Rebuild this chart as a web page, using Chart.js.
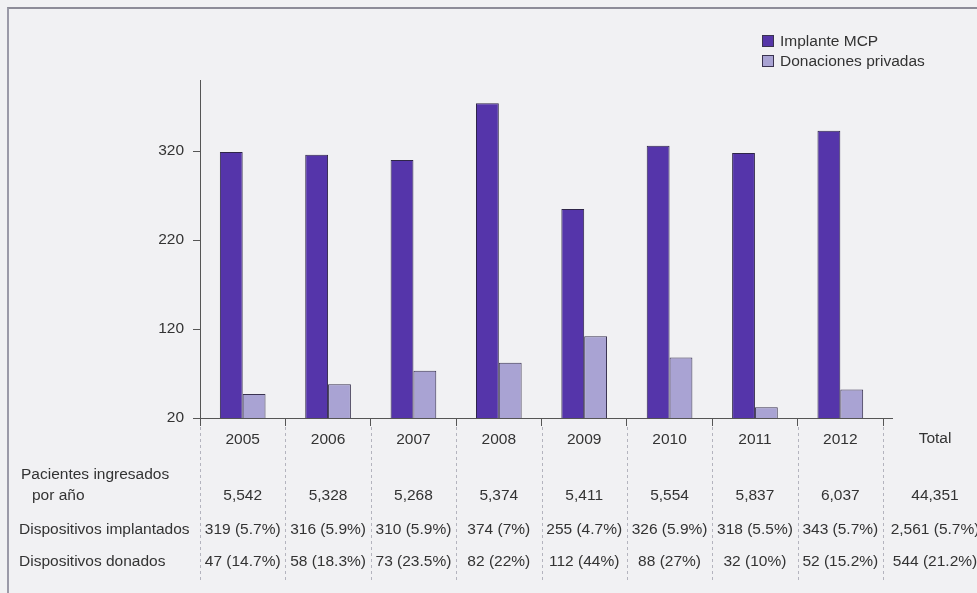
<!DOCTYPE html>
<html>
<head>
<meta charset="utf-8">
<script src="https://cdn.jsdelivr.net/npm/chart.js@4.4.1/dist/chart.umd.min.js"></script>
<style>
  html, body { margin: 0; padding: 0; background: #f1f1f3; }
  #wrap { position: relative; width: 977px; height: 593px; overflow: hidden; }
  #frame { position: absolute; left: 7px; top: 7px; right: 0; bottom: 0;
           border-top: 2px solid #8d8c98; border-left: 2px solid #9b9aa8; }
  #legend { position: absolute; left: 762px; top: 31px; font-family: "Liberation Sans", Arial, sans-serif;
            font-size: 15.5px; color: #333; line-height: 20px; }
  #legend .sw { display: inline-block; width: 12px; height: 12px; margin-right: 6px;
                vertical-align: -1px; border: 1px solid #3a3350; box-sizing: border-box; }
  canvas { position: absolute; left: 0; top: 0; }
</style>
</head>
<body>
<div id="wrap">
  <div id="frame"></div>
  <canvas id="c" width="977" height="593"></canvas>
  <div id="legend">
    <div><span class="sw" style="background:#5636a8"></span>Implante MCP</div>
    <div><span class="sw" style="background:#a9a3d3"></span>Donaciones privadas</div>
  </div>
</div>
<script>
const years = ['2005', '2006', '2007', '2008', '2009', '2010', '2011', '2012'];
const implantes = [319, 316, 310, 374, 255, 326, 318, 343];
const donados = [47, 58, 73, 82, 112, 88, 32, 52];
const pacientes = [5542, 5328, 5268, 5374, 5411, 5554, 5837, 6037];
const implantePct = ['5.7%', '5.9%', '5.9%', '7%', '4.7%', '5.9%', '5.5%', '5.7%'];
const donadoPct = ['14.7%', '18.3%', '23.5%', '22%', '44%', '27%', '10%', '15.2%'];
const totals = { pacientes: 44351, implantes: 2561, implantePct: '5.7%', donados: 544, donadoPct: '21.2%' };
const yTicks = [20, 120, 220, 320];

const FONT = '"Liberation Sans", Arial, sans-serif';
const TEXT = '#333';

const fmt = (n) => n.toLocaleString('en-US');

const tablePlugin = {
  id: 'dataTable',
  afterDraw(chart) {
    const { ctx, chartArea } = chart;
    const x = chart.scales.x;
    const catW = (chartArea.right - chartArea.left) / years.length;
    ctx.save();

    // axis line runs a little past the last tick
    ctx.strokeStyle = '#555';
    ctx.lineWidth = 1;
    ctx.beginPath();
    ctx.moveTo(chartArea.right, chartArea.bottom + 0.5);
    ctx.lineTo(chartArea.right + 10, chartArea.bottom + 0.5);
    ctx.stroke();

    // dashed column separators under the axis
    ctx.strokeStyle = '#b4b4be';
    ctx.setLineDash([3, 3]);
    for (let i = 0; i <= years.length; i++) {
      const px = Math.round(chartArea.left + i * catW) + 0.5;
      ctx.beginPath();
      ctx.moveTo(px, chartArea.bottom + 9);
      ctx.lineTo(px, 583);
      ctx.stroke();
    }
    ctx.setLineDash([]);

    ctx.font = '15.5px ' + FONT;
    ctx.fillStyle = TEXT;
    ctx.textBaseline = 'middle';

    // row labels
    ctx.textAlign = 'left';
    ctx.fillText('Pacientes ingresados', 21, 475);
    ctx.fillText('por año', 32, 496);
    ctx.fillText('Dispositivos implantados', 19, 530);
    ctx.fillText('Dispositivos donados', 19, 562);

    // cells
    ctx.textAlign = 'center';
    years.forEach((y, i) => {
      const cx = x.getPixelForValue(i);
      ctx.fillText(fmt(pacientes[i]), cx, 496);
      ctx.fillText(`${implantes[i]} (${implantePct[i]})`, cx, 530);
      ctx.fillText(`${donados[i]} (${donadoPct[i]})`, cx, 562);
    });
    const tx = chartArea.right + 52;
    ctx.fillText('Total', tx, 439);
    ctx.fillText(fmt(totals.pacientes), tx, 496);
    ctx.fillText(`${fmt(totals.implantes)} (${totals.implantePct})`, tx, 530);
    ctx.fillText(`${totals.donados} (${totals.donadoPct})`, tx, 562);
    ctx.restore();
  },
};

new Chart(document.getElementById('c'), {
  type: 'bar',
  data: {
    labels: years,
    datasets: [
      {
        label: 'Implante MCP',
        data: implantes,
        backgroundColor: '#5535aa',
        borderColor: '#2e2548',
        borderWidth: 1,
        borderSkipped: false,
      },
      {
        label: 'Donaciones privadas',
        data: donados,
        backgroundColor: '#a9a3d3',
        borderColor: '#3a3350',
        borderWidth: 1,
        borderSkipped: false,
      },
    ],
  },
  options: {
    responsive: false,
    animation: false,
    layout: { padding: { left: 0, right: 94, top: 80, bottom: 0 } },
    datasets: { bar: { categoryPercentage: 0.535, barPercentage: 1.0 } },
    plugins: { legend: { display: false }, tooltip: { enabled: false } },
    scales: {
      x: {
        afterFit: (s) => { s.height = 175; },
        border: { color: '#555', width: 1 },
        grid: { offset: true, drawOnChartArea: false, tickLength: 8, color: '#555' },
        ticks: { color: TEXT, font: { family: FONT, size: 15.5 }, padding: 4, maxRotation: 0 },
      },
      y: {
        min: 20,
        max: 400,
        afterFit: (s) => { s.width = 200; },
        afterBuildTicks: (s) => { s.ticks = yTicks.map((v) => ({ value: v })); },
        border: { color: '#555', width: 1 },
        grid: { drawOnChartArea: false, tickLength: 7, color: '#555' },
        ticks: { color: TEXT, font: { family: FONT, size: 15.5 }, padding: 9 },
      },
    },
  },
  plugins: [tablePlugin],
});
</script>
</body>
</html>
